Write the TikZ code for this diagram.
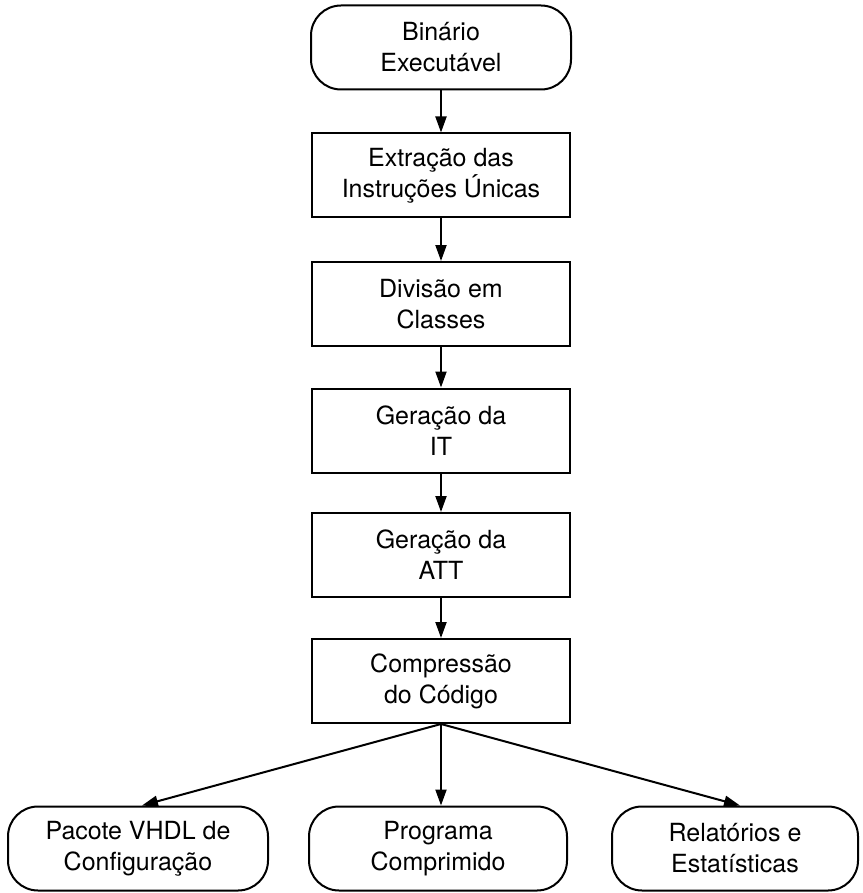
\documentclass[tikz,border=0pt]{standalone}
\usepackage{fontspec}
\setmainfont{TeX Gyre Heros}
\usetikzlibrary{arrows.meta}
\begin{document}
\begin{tikzpicture}[x=1pt,y=-1pt,
  every node/.style={font=\fontsize{25}{31}\selectfont, align=center, inner sep=0pt, line width=2pt},
  procbox/.style={draw, minimum width=258pt, minimum height=84pt},
  termbox/.style={draw, rounded corners=30pt, minimum height=84pt},
  flow/.style={line width=2pt, -{Triangle[length=16pt,width=11pt]}}]
\useasboundingbox (0,0) rectangle (862,893);
\node[termbox, minimum width=260pt] (bin) at (441,47.5) {Binário\\Executável};
\node[procbox] (ext) at (441,175.5) {Extração das\\Instruções Únicas};
\node[procbox] (div) at (441,304) {Divisão em\\Classes};
\node[procbox] (it) at (441,430.5) {Geração da\\IT};
\node[procbox] (att) at (441,555) {Geração da\\ATT};
\node[procbox] (comp) at (441,681) {Compressão\\do Código};
\node[termbox, minimum width=260pt] (vhdl) at (138,848.5) {Pacote VHDL de\\Configuração};
\node[termbox, minimum width=258pt] (prog) at (438,848.5) {Programa\\Comprimido};
\node[termbox, minimum width=246pt] (rel) at (735,848.5) {Relatórios e\\Estatísticas};
\draw[flow] (bin) -- (ext);
\draw[flow] (ext) -- (div);
\draw[flow] (div) -- (it);
\draw[flow] (it) -- (att);
\draw[flow] (att) -- (comp);
\coordinate (split) at (comp.south);
\draw[flow] (split) -- (vhdl.north -| 142,0);
\draw[flow] (split) -- (split |- prog.north);
\draw[flow] (split) -- (rel.north -| 740,0);
\end{tikzpicture}
\end{document}
